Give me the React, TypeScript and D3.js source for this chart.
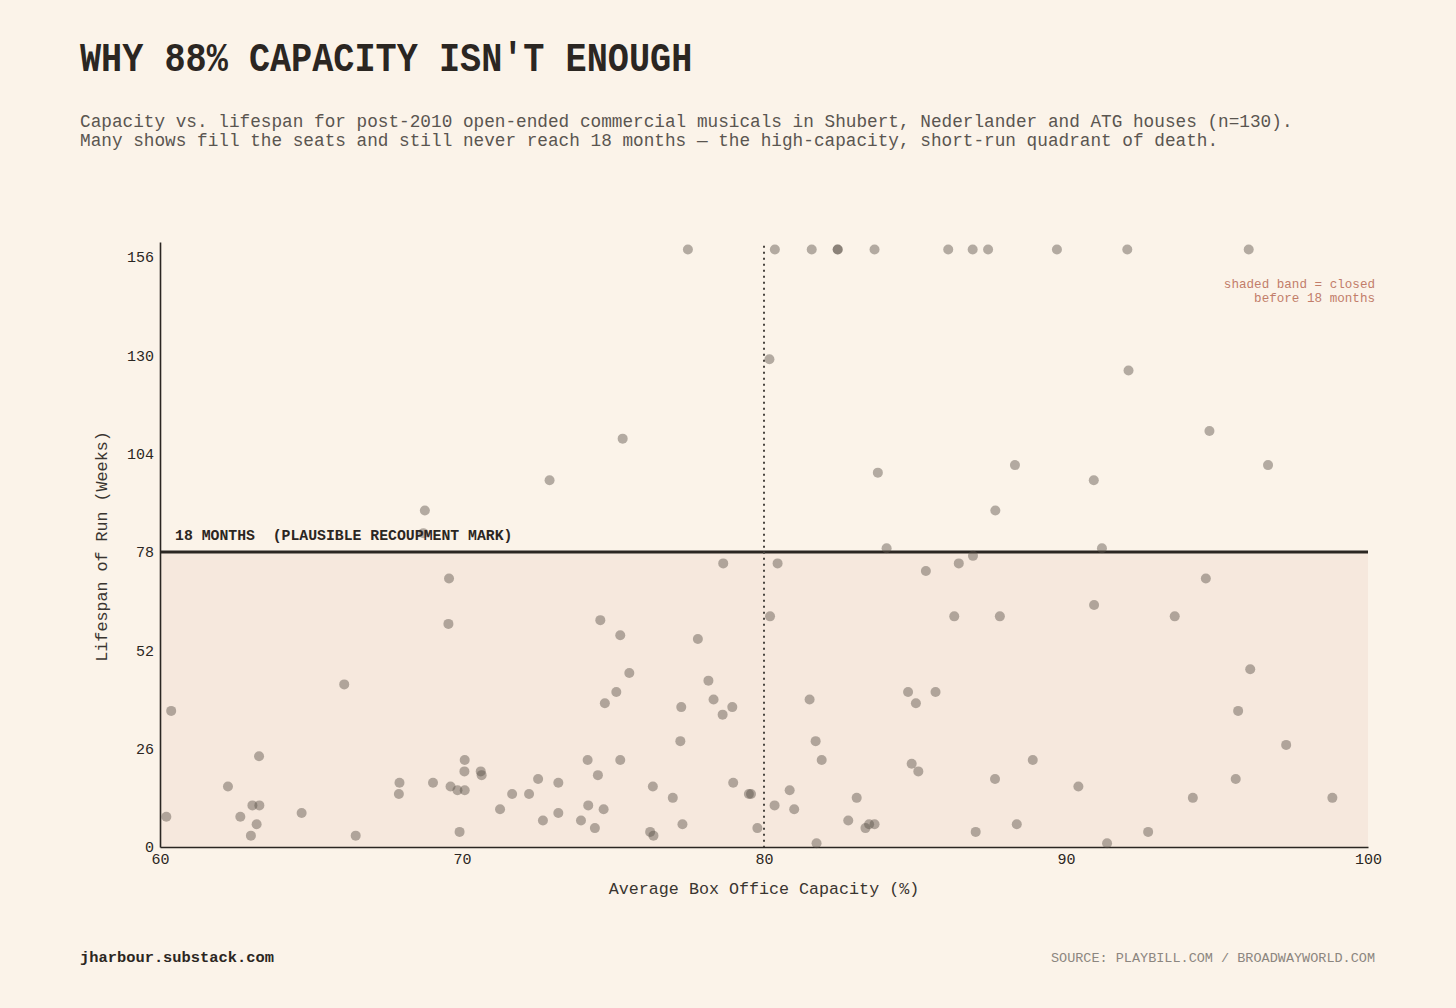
import React, { useEffect, useRef } from 'react';
import * as d3 from 'd3';

// average box office capacity (%) per show
const capacity = [
  68.77, 68.72, 69.57, 69.55, 66.1, 60.37, 63.28, 62.25, 60.21, 62.66,
  63.06, 63.29, 63.2, 63.01, 64.69, 66.48, 67.93, 67.91, 69.04, 69.62,
  69.85, 70.09, 70.09, 70.08, 70.62, 70.65, 69.92, 71.26, 71.66, 72.22,
  72.52, 72.68, 73.19, 73.19, 74.58, 75.24, 75.54, 75.11, 74.73, 77.81,
  78.16, 78.33, 77.26, 78.95, 78.63, 77.23, 80.2, 81.51, 81.71, 81.91,
  74.16, 75.24, 74.5, 73.94, 74.18, 74.69, 74.4, 76.32, 76.98, 76.23,
  76.34, 77.3, 78.98, 79.5, 79.57, 79.78, 80.35, 80.85, 81.0, 81.74,
  83.07, 82.79, 83.36, 83.48, 83.66, 84.06, 91.19, 86.92, 86.45, 85.36,
  86.3, 87.81, 90.93, 93.6, 84.77, 85.68, 85.03, 84.89, 85.11, 88.9,
  87.65, 90.41, 87.01, 88.37, 91.36, 92.72, 94.63, 96.1, 95.7, 97.29,
  95.62, 94.2, 98.82, 77.48, 80.36, 81.58, 82.44, 82.44, 83.66, 86.1,
  86.91, 87.42, 89.7, 92.03, 96.05, 80.18, 75.32, 72.9, 83.77, 78.65,
  80.45, 92.07, 94.75, 96.69, 88.31, 90.92, 87.66,
];

// lifespan of run in weeks (long runs capped at 158 on the chart)
const weeks = [
  89, 83, 71, 59, 43, 36, 24, 16, 8, 8,
  11, 11, 6, 3, 9, 3, 17, 14, 17, 16,
  15, 15, 23, 20, 20, 19, 4, 10, 14, 14,
  18, 7, 17, 9, 60, 56, 46, 41, 38, 55,
  44, 39, 37, 37, 35, 28, 61, 39, 28, 23,
  23, 23, 19, 7, 11, 10, 5, 16, 13, 4,
  3, 6, 17, 14, 14, 5, 11, 15, 10, 1,
  13, 7, 5, 6, 6, 79, 79, 77, 75, 73,
  61, 61, 64, 61, 41, 41, 38, 22, 20, 23,
  18, 16, 4, 6, 1, 4, 71, 47, 36, 27,
  18, 13, 13, 158, 158, 158, 158, 158, 158, 158,
  158, 158, 158, 158, 158, 129, 108, 97, 99, 75,
  75, 126, 110, 101, 101, 97, 89,
];

const xTicks = [60, 70, 80, 90, 100];
const yTicks = [0, 26, 52, 78, 104, 130, 156];
const RECOUP_WEEKS = 78;
const CAPACITY_MARK = 80;

const W = 1456;
const H = 1008;
const BG = '#fbf3e9';
const INK = '#2b2622';
const MONO = '"Liberation Mono", "DejaVu Sans Mono", monospace';

export default function App() {
  const svgRef = useRef<SVGSVGElement>(null);

  useEffect(() => {
    if (!svgRef.current) return;
    document.body.style.margin = '0';
    document.body.style.background = BG;

    const margin = { top: 242, right: 88, bottom: 161, left: 160 };
    const svg = d3.select(svgRef.current);
    svg.selectAll('*').remove();

    svg.append('rect').attr('width', W).attr('height', H).attr('fill', BG);

    const x = d3
      .scaleLinear()
      .domain([60, 100])
      .range([margin.left, W - margin.right]);

    const y = d3
      .scaleLinear()
      .domain([0, 160])
      .range([H - margin.bottom, margin.top]);

    // title + subtitle
    svg
      .append('text')
      .attr('transform', 'translate(80,71) scale(0.88,1)')
      .attr('font-family', MONO)
      .attr('font-size', 40)
      .attr('font-weight', 700)
      .attr('fill', INK)
      .text("WHY 88% CAPACITY ISN'T ENOUGH");

    const sub = [
      'Capacity vs. lifespan for post-2010 open-ended commercial musicals in Shubert, Nederlander and ATG houses (n=130).',
      'Many shows fill the seats and still never reach 18 months \u2014 the high-capacity, short-run quadrant of death.',
    ];
    sub.forEach((s, i) => {
      svg
        .append('text')
        .attr('transform', `translate(80,${127 + i * 19}) scale(0.985,1)`)
        .attr('font-family', MONO)
        .attr('font-size', 18)
        .attr('fill', '#5a5550')
        .text(s);
    });

    // shaded band: closed before 18 months
    svg
      .append('rect')
      .attr('x', x(60))
      .attr('y', y(RECOUP_WEEKS))
      .attr('width', x(100) - x(60))
      .attr('height', y(0) - y(RECOUP_WEEKS))
      .attr('fill', '#f6e8dd');

    // axes
    const xAxis = svg
      .append('g')
      .attr('transform', `translate(0,${y(0)})`)
      .call(d3.axisBottom(x).tickValues(xTicks).tickSize(0).tickPadding(6));
    const yAxis = svg
      .append('g')
      .attr('transform', `translate(${x(60)},0)`)
      .call(d3.axisLeft(y).tickValues(yTicks).tickSize(0).tickPadding(6));

    [xAxis, yAxis].forEach((g) => {
      g.select('.domain').attr('stroke', INK).attr('stroke-width', 1.6);
      g.selectAll('text')
        .attr('font-family', MONO)
        .attr('font-size', 15)
        .attr('fill', INK);
    });

    // 18 month reference line
    svg
      .append('line')
      .attr('x1', x(60))
      .attr('x2', x(100))
      .attr('y1', y(RECOUP_WEEKS))
      .attr('y2', y(RECOUP_WEEKS))
      .attr('stroke', INK)
      .attr('stroke-width', 3);

    // 80% capacity marker
    svg
      .append('line')
      .attr('x1', x(CAPACITY_MARK))
      .attr('x2', x(CAPACITY_MARK))
      .attr('y1', y(159))
      .attr('y2', y(0))
      .attr('stroke', '#4a4540')
      .attr('stroke-width', 2)
      .attr('stroke-dasharray', '2,4');

    // shows
    svg
      .append('g')
      .selectAll('circle')
      .data(capacity.map((c, i) => ({ c, w: weeks[i] })))
      .join('circle')
      .attr('cx', (d) => x(d.c))
      .attr('cy', (d) => y(d.w))
      .attr('r', 5)
      .attr('fill', '#5b5149')
      .attr('fill-opacity', 0.45);

    svg
      .append('text')
      .attr('x', x(60) + 15)
      .attr('y', y(RECOUP_WEEKS) - 12)
      .attr('font-family', MONO)
      .attr('font-size', 14.8)
      .attr('font-weight', 700)
      .attr('fill', INK)
      .attr('xml:space', 'preserve')
      .text('18 MONTHS  (PLAUSIBLE RECOUPMENT MARK)');

    ['shaded band = closed', 'before 18 months'].forEach((s, i) => {
      svg
        .append('text')
        .attr('x', 1375)
        .attr('y', 288 + i * 14)
        .attr('text-anchor', 'end')
        .attr('font-family', MONO)
        .attr('font-size', 12.6)
        .attr('fill', '#c27d6a')
        .text(s);
    });

    // axis titles
    svg
      .append('text')
      .attr('x', (x(60) + x(100)) / 2)
      .attr('y', 894)
      .attr('text-anchor', 'middle')
      .attr('font-family', MONO)
      .attr('font-size', 16.7)
      .attr('fill', '#3a3530')
      .text('Average Box Office Capacity (%)');

    svg
      .append('text')
      .attr('transform', `translate(107,${(y(0) + y(160)) / 2 + 2}) rotate(-90)`)
      .attr('text-anchor', 'middle')
      .attr('font-family', MONO)
      .attr('font-size', 16.7)
      .attr('fill', '#3a3530')
      .text('Lifespan of Run (Weeks)');

    // footer
    svg
      .append('text')
      .attr('x', 80)
      .attr('y', 962)
      .attr('font-family', MONO)
      .attr('font-size', 15.4)
      .attr('font-weight', 700)
      .attr('fill', INK)
      .text('jharbour.substack.com');

    svg
      .append('text')
      .attr('x', 1375)
      .attr('y', 962)
      .attr('text-anchor', 'end')
      .attr('font-family', MONO)
      .attr('font-size', 13.5)
      .attr('fill', '#8c8680')
      .text('SOURCE: PLAYBILL.COM / BROADWAYWORLD.COM');
  }, []);

  return <svg ref={svgRef} width={W} height={H} style={{ display: 'block' }}></svg>;
}
